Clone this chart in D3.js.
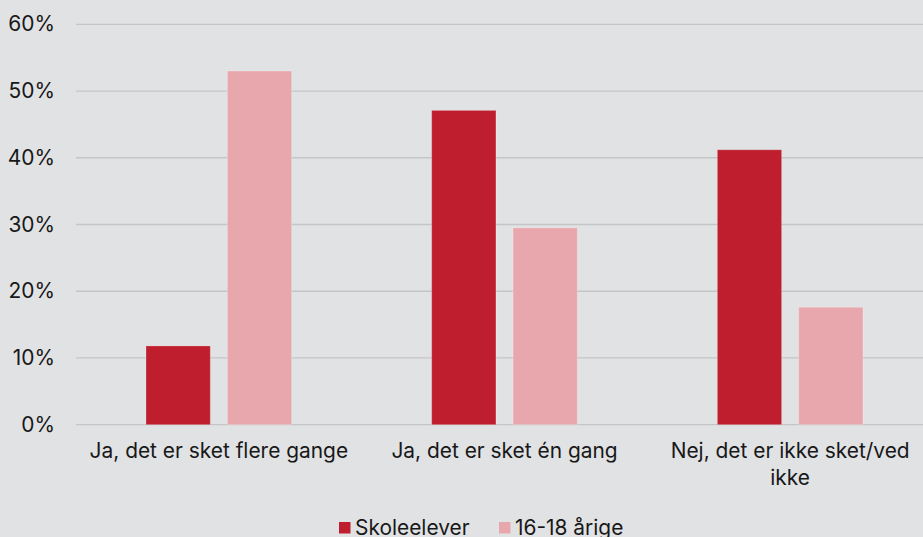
<!DOCTYPE html>
<html>
<head>
  <meta charset="utf-8">
  <style>
    html, body { margin: 0; padding: 0; background: #e1e2e4; }
    svg { display: block; font-family: Inter, "Noto Sans", sans-serif; }
  </style>
</head>
<body>
  <script src="https://cdn.jsdelivr.net/npm/d3@7"></script>
  <script>
    // data
    var categories = [
      ["Ja, det er sket flere gange"],
      ["Ja, det er sket én gang"],
      ["Nej, det er ikke sket/ved", "ikke"]
    ]
    var seriesNames = ["Skoleelever", "16-18 årige"]
    var skoleelever = [11.8, 47.1, 41.2]
    var aarige = [53.0, 29.5, 17.6]
    var yTicks = [0, 10, 20, 30, 40, 50, 60]
    var colors = ["#be1e2d", "#e8a7ac"]

    var w = 923
    var h = 537
    var plotLeft = 76, plotRight = 933, plotTop = 24.3, plotBottom = 424.7
    var fontSize = "20.9px"

    var svg = d3.select("body").append("svg")
                .attr("width", w)
                .attr("height", h)

    var x = d3.scaleBand()
              .domain(d3.range(categories.length))
              .range([plotLeft, plotRight])

    var xInner = d3.scaleBand()
                   .domain([0, 1])
                   .range([70, x.bandwidth() - 70])
                   .paddingInner(0.21)

    var y = d3.scaleLinear()
              .domain([0, 60])
              .range([plotBottom, plotTop])

    // gridlines
    svg.append("g")
       .selectAll("line")
       .data(yTicks)
       .enter()
       .append("line")
       .attr("x1", plotLeft)
       .attr("x2", w)
       .attr("y1", function(d) { return y(d) })
       .attr("y2", function(d) { return y(d) })
       .attr("stroke", "#c4c5c7")
       .attr("stroke-width", 1.3)

    // y labels
    svg.append("g")
       .selectAll("text")
       .data(yTicks)
       .enter()
       .append("text")
       .attr("x", 55)
       .attr("y", function(d) { return y(d) + 7 })
       .attr("text-anchor", "end")
       .attr("font-size", fontSize)
       .attr("fill", "#181818")
       .text(function(d) { return d + "%" })

    // bars
    var series = [skoleelever, aarige]
    series.forEach(function(vals, s) {
      svg.append("g")
         .selectAll("rect")
         .data(vals)
         .enter()
         .append("rect")
         .attr("x", function(d, i) { return x(i) + xInner(s) })
         .attr("y", function(d) { return y(d) })
         .attr("width", xInner.bandwidth())
         .attr("height", function(d) { return y(0) - y(d) })
         .attr("fill", colors[s])
         .attr("stroke", "rgba(255,255,255,0.25)")
         .attr("stroke-width", 1)
    })

    // x labels
    var xl = svg.append("g")
                .selectAll("text")
                .data(categories)
                .enter()
                .append("text")
                .attr("x", function(d, i) { return x(i) + x.bandwidth() / 2 })
                .attr("y", 458)
                .attr("text-anchor", "middle")
                .attr("font-size", fontSize)
                .attr("fill", "#181818")
    xl.selectAll("tspan")
      .data(function(d) { return d })
      .enter()
      .append("tspan")
      .attr("x", function() { return d3.select(this.parentNode).attr("x") })
      .attr("dy", function(d, i) { return i == 0 ? 0 : 27 })
      .text(function(d) { return d })

    // legend
    var legendX = [339, 499]
    var lg = svg.append("g")
                .selectAll("g")
                .data(seriesNames)
                .enter()
                .append("g")
                .attr("transform", function(d, i) { return "translate(" + legendX[i] + ",522)" })
    lg.append("rect")
      .attr("width", 11.5)
      .attr("height", 11.5)
      .attr("fill", function(d, i) { return colors[i] })
    lg.append("text")
      .attr("x", 16)
      .attr("y", 13)
      .attr("font-size", fontSize)
      .attr("fill", "#181818")
      .text(function(d) { return d })
  </script>
</body>
</html>
